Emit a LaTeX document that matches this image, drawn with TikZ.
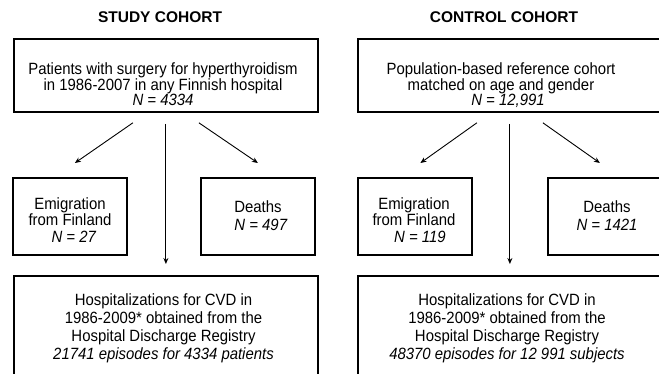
\documentclass[tikz,border=0pt]{standalone}
\usepackage{fontspec}
\setmainfont{Liberation Sans}
\newfontfamily\narrowfont{Liberation Sans}[FakeStretch=0.915]
\usetikzlibrary{arrows.meta}
\tikzset{
  box/.style={draw, line width=1.8pt, inner sep=0pt, anchor=north west},
  arr/.style={-{Stealth[length=6pt,width=5pt]}, line width=0.9pt},
  txt/.style={anchor=north, align=center, inner sep=0pt},
  ttl/.style={font=\fontsize{15.5}{16}\selectfont\bfseries, inner sep=0pt}
}
\begin{document}
\begin{tikzpicture}[x=1pt,y=-1pt]
\useasboundingbox (0,0) rectangle (659,373);
\clip (0,0) rectangle (659,373);
% titles
\node[ttl] (ts) at (160,17) {STUDY COHORT};
\node[ttl] (tc) at (504,17) {CONTROL COHORT};
% study boxes
\node[box, minimum width=304pt, minimum height=73pt] (s0) at (13,38) {};
\node[box, minimum width=114pt, minimum height=77pt] (s1) at (12,177) {};
\node[box, minimum width=114pt, minimum height=77pt] (s2) at (200,177) {};
\node[box, minimum width=304pt, minimum height=130pt] (s3) at (13,275) {};
% control boxes
\node[box, minimum width=304pt, minimum height=73pt] (c0) at (357,38) {};
\node[box, minimum width=114pt, minimum height=77pt] (c1) at (357,177) {};
\node[box, minimum width=114pt, minimum height=77pt] (c2) at (547,177) {};
\node[box, minimum width=304pt, minimum height=130pt] (c3) at (357,275) {};
% texts
\node[txt, font=\narrowfont\fontsize{16.3}{14.2}\selectfont] (s0t) at (163,62)
  {Patients with surgery for hyperthyroidism\\in 1986-2007 in any Finnish hospital\\\textit{N = 4334}};
\node[txt, font=\narrowfont\fontsize{16.3}{16.5}\selectfont] (s1t) at (70,197)
  {Emigration\\from Finland\\\hspace*{8pt}\textit{N = 27}};
\node[txt, font=\narrowfont\fontsize{16.3}{18}\selectfont] (s2t) at (258,200)
  {Deaths\\\hspace*{6pt}\textit{N = 497}};
\node[txt, font=\narrowfont\fontsize{16.3}{18}\selectfont] (s3t) at (163.5,293)
  {Hospitalizations for CVD in\\1986-2009* obtained from the\\Hospital Discharge Registry\\\textit{21741 episodes for 4334 patients}};
\node[txt, font=\narrowfont\fontsize{16.3}{14.2}\selectfont] (c0t) at (501,62)
  {Population-based reference cohort\\matched on age and gender\\\hspace*{14pt}\textit{N = 12,991}};
\node[txt, font=\narrowfont\fontsize{16.3}{16.5}\selectfont] (c1t) at (414,197)
  {Emigration\\from Finland\\\hspace*{12pt}\textit{N = 119}};
\node[txt, font=\narrowfont\fontsize{16.3}{18}\selectfont] (c2t) at (607,200)
  {Deaths\\\textit{N = 1421}};
\node[txt, font=\narrowfont\fontsize{16.3}{18}\selectfont] (c3t) at (507,293)
  {Hospitalizations for CVD in\\1986-2009* obtained from the\\Hospital Discharge Registry\\\textit{48370 episodes for 12 991 subjects}};
% study arrows
\draw[arr] ([yshift=-11pt]s0.south) -- ([yshift=11pt]s3.north);
\draw[arr] ([xshift=-33pt,yshift=-10pt]s0.south) -- ([xshift=5pt,yshift=14pt]s1.north);
\draw[arr] ([xshift=33pt,yshift=-10pt]s0.south) -- ([yshift=14pt]s2.north);
% control arrows
\draw[arr] ([yshift=-11pt]c0.south) -- ([yshift=11pt]c3.north);
\draw[arr] ([xshift=-33pt,yshift=-10pt]c0.south) -- ([xshift=5.5pt,yshift=14pt]c1.north);
\draw[arr] ([xshift=33pt,yshift=-10pt]c0.south) -- ([xshift=-5pt,yshift=14pt]c2.north);
\end{tikzpicture}
\end{document}
